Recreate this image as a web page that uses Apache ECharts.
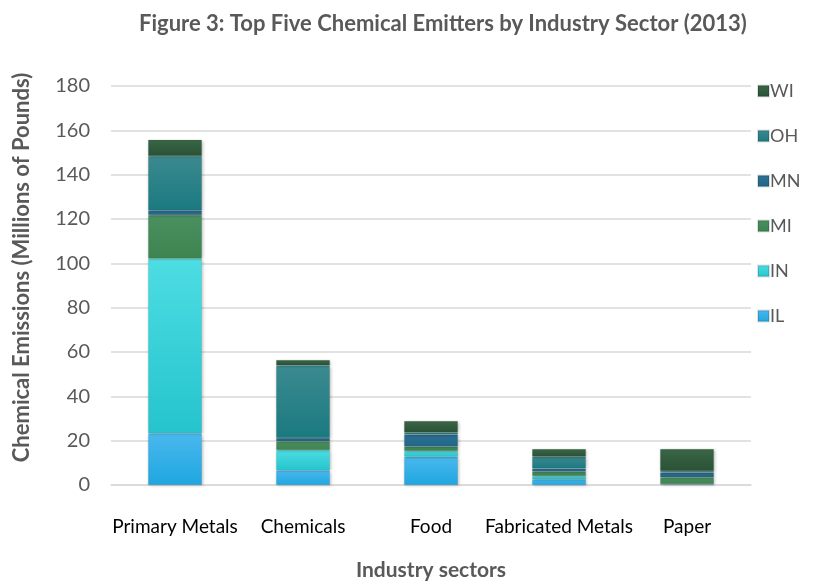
<!DOCTYPE html>
<html>
<head>
<meta charset="utf-8">
<script src="https://cdn.jsdelivr.net/npm/echarts@6/dist/echarts.min.js"></script>
<style>
  html, body { margin: 0; padding: 0; background: #ffffff; }
  #chart { width: 840px; height: 586px; }
</style>
</head>
<body>
<div id="chart"></div>
<script>
// Emissions in millions of pounds, by industry sector and state
const sectors = ['Primary Metals', 'Chemicals', 'Food', 'Fabricated Metals', 'Paper'];
const IL = [23.3, 6.6, 12.8, 2.6, 0.3];
const IN = [78.8, 9.2, 2.5, 1.5, 0.2];
const MI = [19.7, 3.9, 1.9, 1.9, 3.0];
const MN = [2.2, 1.5, 5.5, 1.5, 2.1];
const OH = [24.4, 32.8, 0.9, 5.3, 0.7];
const WI = [7.4, 2.4, 5.3, 3.4, 9.9];
const yTicks = [0, 20, 40, 60, 80, 100, 120, 140, 160, 180];

const states = [
  { name: 'IL', data: IL, top: '#49b9ee', bottom: '#1fa6e0', key: '#2aa8e0' },
  { name: 'IN', data: IN, top: '#4ddde3', bottom: '#25c4cd', key: '#33ccd6' },
  { name: 'MI', data: MI, top: '#4b9060', bottom: '#3c8450', key: '#3d8a55' },
  { name: 'MN', data: MN, top: '#2e7094', bottom: '#1f6686', key: '#1e6a8a' },
  { name: 'OH', data: OH, top: '#3b8a90', bottom: '#1a7a80', key: '#1e8085' },
  { name: 'WI', data: WI, top: '#3a6646', bottom: '#2a5136', key: '#2d5538' }
];

const font = 'Lato, "Open Sans", sans-serif';
const chart = echarts.init(document.getElementById('chart'));

chart.setOption({
  backgroundColor: '#ffffff',
  animation: false,
  textStyle: { fontFamily: font },
  title: {
    text: 'Figure 3: Top Five Chemical Emitters by Industry Sector (2013)',
    left: 134,
    top: 8,
    textStyle: { fontFamily: font, fontSize: 22, fontWeight: 'bold', color: '#595959' }
  },
  legend: {
    orient: 'vertical',
    left: 752,
    top: 77,
    itemWidth: 11,
    itemHeight: 11,
    itemGap: 27,
    icon: 'rect',
    data: ['WI', 'OH', 'MN', 'MI', 'IN', 'IL'],
    textStyle: { fontFamily: font, fontSize: 18, color: '#595959', padding: [0, 0, 0, -4] }
  },
  grid: { left: 111, right: 89, top: 86, bottom: 98, containLabel: false },
  xAxis: {
    type: 'category',
    data: sectors,
    name: 'Industry sectors',
    nameLocation: 'middle',
    nameGap: 75,
    nameTextStyle: { fontFamily: font, fontSize: 21, fontWeight: 'bold', color: '#595959' },
    axisLine: { show: true, lineStyle: { color: '#d9d9d9', width: 1.5 } },
    axisTick: { show: false },
    axisLabel: { fontFamily: font, fontSize: 19, color: '#000000', margin: 32, interval: 0 }
  },
  yAxis: {
    type: 'value',
    min: yTicks[0],
    max: yTicks[yTicks.length - 1],
    interval: yTicks[1] - yTicks[0],
    name: 'Chemical Emissions (Millions of Pounds)',
    nameLocation: 'middle',
    nameGap: 78,
    nameRotate: 90,
    nameTextStyle: { fontFamily: font, fontSize: 22, fontWeight: 'bold', color: '#595959', padding: [0, 0, 0, 36] },
    axisLine: { show: false },
    axisTick: { show: false },
    axisLabel: { fontFamily: font, fontSize: 20, color: '#595959', margin: 21 },
    splitLine: { lineStyle: { color: '#d9d9d9', width: 1.5 } }
  },
  series: states.map(s => ({
    name: s.name,
    type: 'bar',
    stack: 'total',
    data: s.data,
    barCategoryGap: '58%',
    color: s.key,
    itemStyle: {
      color: new echarts.graphic.LinearGradient(0, 0, 0, 1, [
        { offset: 0, color: s.top },
        { offset: 1, color: s.bottom }
      ]),
      borderColor: 'rgba(0,0,0,0.12)',
      borderWidth: 0.5,
      shadowBlur: 3,
      shadowColor: 'rgba(0,0,0,0.25)',
      shadowOffsetX: 1,
      shadowOffsetY: 1
    }
  }))
});
</script>
</body>
</html>
